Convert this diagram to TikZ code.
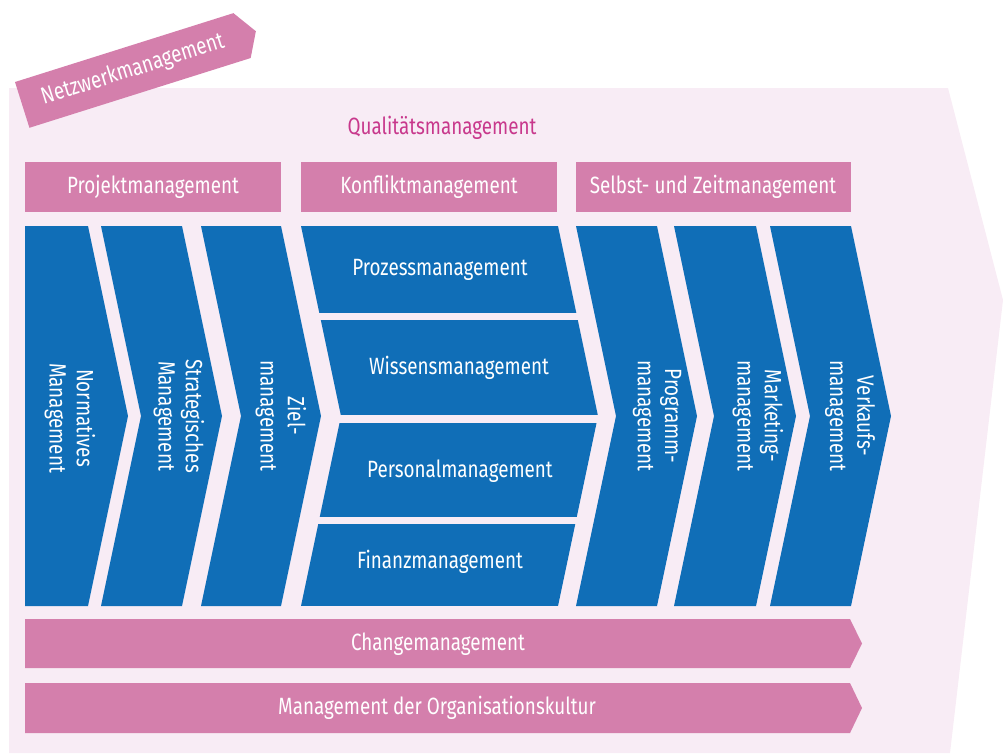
\documentclass[tikz,border=0pt]{standalone}
\usepackage{fontspec}
\setmainfont{Fira Sans}[FakeStretch=0.8]
\definecolor{mgmtblue}{HTML}{106EB7}
\definecolor{mgmtpink}{HTML}{D47FAC}
\definecolor{mgmtpale}{HTML}{F8ECF5}
\definecolor{mgmtmagenta}{HTML}{C8388C}

\begin{document}
\begin{tikzpicture}[x=0.02cm, y=-0.02cm,
    bluebar/.style={fill=mgmtblue},
    pinkbar/.style={fill=mgmtpink},
    bartext/.style={text=white, inner sep=0pt, font=\fontsize{13.4}{15.5}\selectfont},
    coltext/.style={bartext, rotate=-90, align=center}]
  \useasboundingbox (0, 0) rectangle (1003, 755);
  % pale background arrow
  \fill [fill=mgmtpale] (9, 88) -- (948, 88) -- (1003, 300) -- (950, 753) -- (9, 753) -- cycle;
  % network tab
  \begin{scope}[shift={(15, 82)}, rotate=17.5]
    \fill [pinkbar] (0, 0) -- (229, 0) -- (245, 24) -- (232, 48) -- (0, 48) -- cycle;
    \node [bartext, transform shape] (netzwerk) at (116, 24) {Netzwerkmanagement};
  \end{scope}
  % headline
  \node [text=mgmtmagenta, font=\fontsize{13.4}{15.5}\selectfont] (qualitaet) at (442, 128) {Qualitätsmanagement};
  % top row of boxes
  \fill [pinkbar] (25, 162) rectangle (281, 212);
  \fill [pinkbar] (301, 162) rectangle (557, 212);
  \fill [pinkbar] (576, 162) rectangle (851, 212);
  \node [bartext] (projekt) at (153, 187) {Projektmanagement};
  \node [bartext] (konflikt) at (429, 187) {Konfliktmanagement};
  \node [bartext] (selbst) at (713, 187) {Selbst- und Zeitmanagement};
  % chevron columns
  \fill [bluebar] (25, 226) -- (88, 226) -- (128, 416) -- (88, 606) -- (25, 606) -- cycle;
  \foreach \l/\r in {101/182, 201/281, 576/657, 674/756, 770/851}
    \fill [bluebar] (\l, 226) -- (\r, 226) -- (\r+40, 416) -- (\r, 606) -- (\l, 606) -- (\l+40, 416) -- cycle;
  % middle column, cut into four bars
  \begin{scope}
    \clip (301, 226) -- (558, 226) -- (598, 416) -- (558, 606) -- (301, 606) -- (341, 416) -- cycle;
    \foreach \t/\b in {226/313, 320/415, 423/517, 524/606}
      \fill [bluebar] (290, \t) rectangle (620, \b);
  \end{scope}
  % column labels
  \node [coltext] (normativ) at (70, 418) {Normatives\\Management};
  \node [coltext] (strategie) at (179, 416) {Strategisches\\Management};
  \node [coltext] (ziel) at (281, 416) {Ziel-\\management};
  \node [coltext] (programm) at (657, 416) {Programm-\\management};
  \node [coltext] (marketing) at (758, 416) {Marketing-\\management};
  \node [coltext] (verkauf) at (850, 416) {Verkaufs-\\management};
  % bar labels
  \node [bartext] (prozess) at (440, 270) {Prozessmanagement};
  \node [bartext] (wissen) at (459, 368) {Wissensmanagement};
  \node [bartext] (personal) at (460, 471) {Personalmanagement};
  \node [bartext] (finanz) at (440, 562) {Finanzmanagement};
  % bottom arrows
  \foreach \t/\b in {619/668, 683/733}
    \fill [pinkbar] (25, \t) -- (850, \t) -- (862, {(\t+\b)/2}) -- (850, \b) -- (25, \b) -- cycle;
  \node [bartext] (change) at (438, 644) {Changemanagement};
  \node [bartext] (kultur) at (437, 708) {Management der Organisationskultur};
\end{tikzpicture}
\end{document}
